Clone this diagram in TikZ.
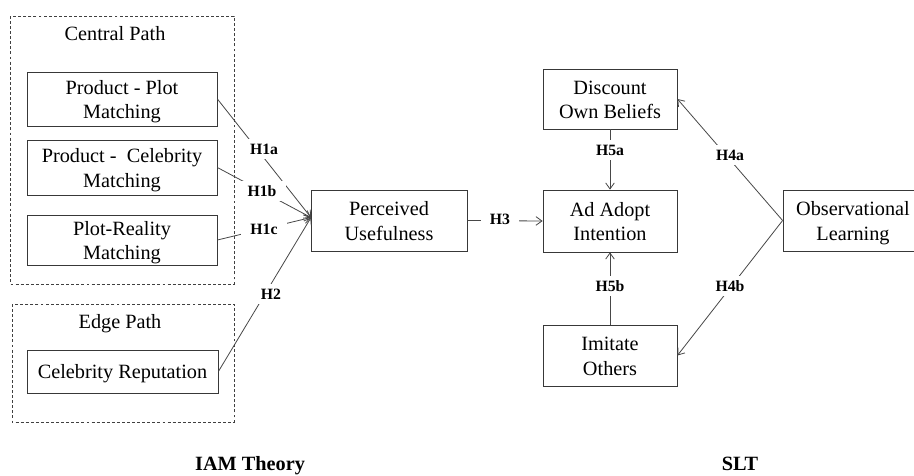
\documentclass[tikz,border=0pt]{standalone}
\usepackage{fontspec}
\setmainfont{Liberation Serif}
\usetikzlibrary{arrows.meta}
\newcommand\tstr{\rule{0pt}{14.5pt}}
\newcommand\bstr{\rule[-3.4pt]{0pt}{3.4pt}}
\begin{document}
\begin{tikzpicture}[x=0.75pt,y=-0.75pt,
  box/.style={draw=black!78,line width=0.6pt,fill=white,inner sep=0pt,align=center,
    font=\fontsize{15.2}{18.5}\selectfont},
  group/.style={draw=black!75,line width=0.6pt,dash pattern=on 2.2pt off 1.6pt},
  grouptitle/.style={anchor=base,inner sep=0pt,font=\fontsize{15.2}{18}\selectfont},
  link/.style={draw=black!72,line width=0.6pt,-{Straight Barb[length=4.5pt,width=6.5pt,line width=0.6pt]}},
  hyp/.style={fill=white,inner xsep=7pt,inner ysep=3.5pt,font=\fontsize{11.8}{13}\selectfont\bfseries},
  theory/.style={anchor=base,inner sep=0pt,font=\fontsize{15.2}{18}\selectfont\bfseries}]
\fill[white] (0,0) rectangle (914,475);
\useasboundingbox (0,0) rectangle (914,475);

% groups
\draw[group] (10,16) rectangle (234,284);
\draw[group] (12,304) rectangle (234,422);
\node[grouptitle] (ct) at (115,40) {Central Path};
\node[grouptitle] (et) at (120,328) {Edge Path};

% boxes
\node[box,minimum width=142.5pt,minimum height=40.5pt] (pp) at (122,99) {\tstr Product - Plot\\Matching\bstr};
\node[box,minimum width=142.5pt,minimum height=41.25pt] (pc) at (122,167.5) {\tstr Product -\ \ Celebrity\\Matching\bstr};
\node[box,minimum width=142.5pt,minimum height=37.5pt] (pr) at (122,240) {\tstr Plot-Reality\\Matching\bstr};
\node[box,minimum width=143.25pt,minimum height=32.25pt] (cr) at (122.5,371.5) {\tstr Celebrity Reputation\bstr};
\node[box,minimum width=117pt,minimum height=45.75pt] (pu) at (389,220.5) {\tstr Perceived\\Usefulness\bstr};
\node[box,minimum width=100.5pt,minimum height=46.5pt] (aa) at (610,221) {\tstr Ad Adopt\\Intention\bstr};
\node[box,minimum width=100.5pt,minimum height=45pt] (db) at (610,99) {\tstr Discount\\Own Beliefs\bstr};
\node[box,minimum width=100.5pt,minimum height=45.75pt] (io) at (610,355.5) {\tstr Imitate\\Others\bstr};
\node[box,minimum width=105pt,minimum height=45.75pt] (ol) at (853,220.5) {\tstr Observational\\Learning\bstr};

\coordinate (pin) at (311,217.5);

% connectors
\draw[link] (pp.east) -- (pin);
\draw[link] (pc.east) -- (pin);
\draw[link] (pr.east) -- (pin);
\draw[link] (cr.east) -- (pin);
\draw[link] (pu.east) -- (aa.west);
\draw[link] (db.south) -- (aa.north);
\draw[link] (io.north) -- (aa.south);
\draw[link] (ol.west) -- (db.east);
\draw[link] (ol.west) -- (io.east);

% labels
\node[hyp] (h1a) at (264,149) {H1a};
\node[hyp] (h1b) at (262,191) {H1b};
\node[hyp] (h1c) at (264,229) {H1c};
\node[hyp] (h2) at (271,294) {H2};
\node[hyp] (h3) at (500,219) {H3};
\node[hyp] (h5a) at (610,150) {H5a};
\node[hyp] (h5b) at (610,286) {H5b};
\node[hyp] (h4a) at (730,155) {H4a};
\node[hyp] (h4b) at (730,286) {H4b};

% theories
\node[theory] (iam) at (250,470) {IAM Theory};
\node[theory] (slt) at (740,470) {SLT};
\end{tikzpicture}
\end{document}
